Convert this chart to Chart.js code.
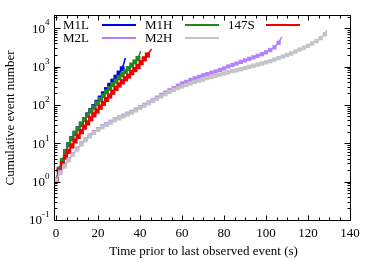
<!DOCTYPE html>
<html>
<head>
<meta charset="utf-8">
<script src="https://cdn.jsdelivr.net/npm/chart.js@4/dist/chart.umd.min.js"></script>
<style>
  html, body { margin: 0; padding: 0; background: #fff; }
  canvas { display: block; }
</style>
</head>
<body>
<canvas id="chart" width="374" height="262"></canvas>
<script>
// series points (time prior to last event, cumulative count)
const m1lX = [0, 1.5, 3, 4.5, 6, 7.5, 9, 10.5, 12, 13.5, 15, 16.5, 18, 19.5, 21, 22.5, 24, 25.5, 27, 28.5, 30, 31.5];
const m1lY = [1.1, 2.1, 3.55, 6.0, 9.3, 13.2, 18.2, 24, 31.6, 41.7, 55, 71, 91, 117, 151, 195, 251, 324, 417, 525, 676, 871];

const m1hX = [0, 1.5, 3, 4.5, 6, 7.5, 9, 10.5, 12, 13.5, 15, 16.5, 18, 19.5, 21, 22.5, 24, 25.5, 27, 28.5, 30, 31.5, 33, 34.5, 36, 37.5, 39];
const m1hY = [1.1, 2.1, 3.55, 6.0, 9.3, 13.2, 18.2, 24, 31.6, 41.7, 53.7, 69, 87, 110, 138, 174, 219, 269, 339, 417, 513, 617, 741, 891, 1096, 1318, 1622];

const s147X = [0, 1.5, 3, 4.5, 6, 7.5, 9, 10.5, 12, 13.5, 15, 16.5, 18, 19.5, 21, 22.5, 24, 25.5, 27, 28.5, 30, 31.5, 33, 34.5, 36, 37.5, 39, 40.5, 42, 43.5];
const s147Y = [1.1, 1.9, 2.95, 4.37, 6.17, 8.5, 11.5, 15.1, 20, 26.3, 33.9, 43.7, 55, 69, 87, 110, 138, 170, 214, 269, 331, 398, 479, 562, 692, 832, 1000, 1259, 1585, 1995];

const m2lX = [0, 2, 4, 6, 8, 10, 12, 14, 16, 18, 20, 22, 24, 26, 28, 30, 32, 34, 36, 38, 40, 42, 44,
  46, 48, 50, 52, 54, 56, 58, 60, 62, 64, 66, 68, 70, 72, 74, 76, 78, 80, 82, 84, 86, 88, 90, 92, 94, 96, 98, 100, 102, 104, 106];
const m2lY = [1.15, 1.8, 2.6, 3.8, 5.2, 7.2, 9.8, 12.5, 15.8, 19.5, 23.4, 27.5, 31.6, 36.3, 41.7, 46.8, 52.5, 59, 66, 76, 87, 100, 115,
  132, 155, 182, 209, 240, 275, 316, 363, 398, 447, 490, 537, 589, 631, 692, 741, 813, 891, 1000, 1096, 1202, 1318, 1445, 1585, 1738, 1905, 2089, 2344, 2692, 3162, 4169];

const m2hX = [0, 2, 4, 6, 8, 10, 12, 14, 16, 18, 20, 22, 24, 26, 28, 30, 32, 34, 36, 38, 40, 42, 44, 46, 48, 50, 52, 54, 56, 58, 60, 62, 64,
  66, 68, 70, 72, 74, 76, 78, 80, 82, 84, 86, 88, 90, 92, 94, 96, 98, 100, 102, 104, 106, 108, 110, 112, 114, 116, 118, 120, 122, 124, 126, 128];
const m2hY = [1.1, 1.7, 2.5, 3.6, 5.0, 6.9, 9.3, 12, 15, 18.6, 22.4, 26.3, 30.2, 34.7, 39.8, 44.7, 50, 56, 63, 72, 83, 95, 110, 126, 145, 166, 191, 219, 245, 275, 302, 331, 363,
  398, 427, 457, 501, 537, 575, 617, 661, 708, 759, 794, 851, 912, 977, 1047, 1122, 1202, 1288, 1380, 1514, 1660, 1820, 1995, 2188, 2455, 2754, 3090, 3467, 3981, 4571, 5495, 6918];

// where each fitted line ends, past the last point
const fitEndX = [33, 40.3, 45.5, 107.5, 129];
const fitEndY = [1660, 2512, 2884, 5888, 8913];

const labels = ["M1L", "M1H", "147S", "M2L", "M2H"];
const colors = ["#0000f0", "#1f8a1f", "#f00000", "#b580ff", "#c4c4c4"];

const xTicks = [0, 20, 40, 60, 80, 100, 120, 140];
const yDecades = [-1, 0, 1, 2, 3, 4];

const seriesX = [m1lX, m1hX, s147X, m2lX, m2hX];
const seriesY = [m1lY, m1hY, s147Y, m2lY, m2hY];
const pointSize = [3.5, 3.5, 3.7, 3, 3.1];

const toPts = (xs, ys) => xs.map((x, i) => ({ x, y: ys[i] }));

const datasets = [];
labels.forEach((label, i) => {
  const pts = toPts(seriesX[i], seriesY[i]);
  datasets.push({
    label,
    data: pts.concat([{ x: fitEndX[i], y: fitEndY[i] }]),
    borderColor: colors[i],
    borderWidth: 1.5,
    pointRadius: 0,
    showLine: true,
    fill: false,
    order: 20 - i,
  });
  datasets.push({
    label: label + " pts",
    data: pts,
    backgroundColor: colors[i],
    borderColor: colors[i],
    borderWidth: 0,
    pointStyle: "rect",
    pointRadius: pointSize[i],
    showLine: false,
    order: 10 - i,
  });
});

const SERIF = "'Liberation Serif', 'Times New Roman', serif";

const decor = {
  id: "decor",
  afterDraw(chart) {
    const { ctx, chartArea: a, scales: { x, y } } = chart;
    ctx.save();
    ctx.strokeStyle = "#000";
    ctx.lineWidth = 1;
    const seg = (x1, y1, x2, y2) => {
      ctx.beginPath();
      ctx.moveTo(x1, y1);
      ctx.lineTo(x2, y2);
      ctx.stroke();
    };
    const L = Math.round(a.left) + 0.5, R = Math.round(a.right) + 0.5;
    const T = Math.round(a.top) + 0.5, B = Math.round(a.bottom) + 0.5;

    // x ticks, mirrored on top
    for (let v = 0; v <= 140; v += 5) {
      const px = Math.round(x.getPixelForValue(v)) + 0.5;
      const len = v % 20 === 0 ? 5 : 3;
      seg(px, B, px, B - len);
      seg(px, T, px, T + len);
    }
    // log y ticks, mirrored on right
    yDecades.forEach((d) => {
      for (let m = 1; m <= 9; m++) {
        const v = m * Math.pow(10, d);
        if (v > y.max) break;
        const py = Math.round(y.getPixelForValue(v)) + 0.5;
        const len = m === 1 ? 6 : 3;
        seg(L, py, L + len, py);
        seg(R, py, R - len, py);
      }
    });
    ctx.strokeRect(L, T, R - L, B - T);

    // tick labels
    ctx.fillStyle = "#000";
    ctx.font = "13px " + SERIF;
    ctx.textAlign = "center";
    ctx.textBaseline = "middle";
    xTicks.forEach((v) => ctx.fillText(String(v), x.getPixelForValue(v), B + 13));

    yDecades.forEach((d) => {
      const py = y.getPixelForValue(Math.pow(10, d));
      const exp = String(d);
      ctx.font = "9px " + SERIF;
      const ew = ctx.measureText(exp).width;
      ctx.textAlign = "left";
      ctx.textBaseline = "middle";
      const right = L - 5;
      ctx.fillText(exp, right - ew, py - 5);
      ctx.font = "13px " + SERIF;
      ctx.textAlign = "right";
      ctx.fillText("10", right - ew, py + 1);
    });

    // axis titles
    ctx.font = "13px " + SERIF;
    ctx.textAlign = "center";
    ctx.textBaseline = "middle";
    ctx.fillText("Time prior to last observed event (s)", (L + R) / 2 + 1, 252);
    ctx.save();
    ctx.translate(11, (T + B) / 2);
    ctx.rotate(-Math.PI / 2);
    ctx.fillText("Cumulative event number", 0, 0);
    ctx.restore();

    // key: text then line sample, three per row
    const colText = [63, 145, 228];
    const colLine = [102, 185, 266];
    const rowY = [25, 38];
    labels.forEach((label, i) => {
      const r = Math.floor(i / 3), c = i % 3;
      ctx.font = "13px " + SERIF;
      ctx.textAlign = "left";
      ctx.fillStyle = "#000";
      ctx.fillText(label, colText[c], rowY[r] + 1);
      ctx.strokeStyle = colors[i];
      ctx.lineWidth = 2;
      seg(colLine[c], rowY[r], colLine[c] + 34, rowY[r]);
    });
    ctx.restore();
  },
};

new Chart(document.getElementById("chart"), {
  type: "scatter",
  data: { datasets },
  options: {
    responsive: false,
    animation: false,
    devicePixelRatio: 1,
    layout: { padding: { left: 54, right: 24, top: 15, bottom: 42 } },
    plugins: { legend: { display: false }, tooltip: { enabled: false } },
    scales: {
      x: { type: "linear", min: -1, max: 140, display: false },
      y: { type: "logarithmic", min: 0.1, max: 22000, display: false },
    },
  },
  plugins: [decor],
});
</script>
</body>
</html>
